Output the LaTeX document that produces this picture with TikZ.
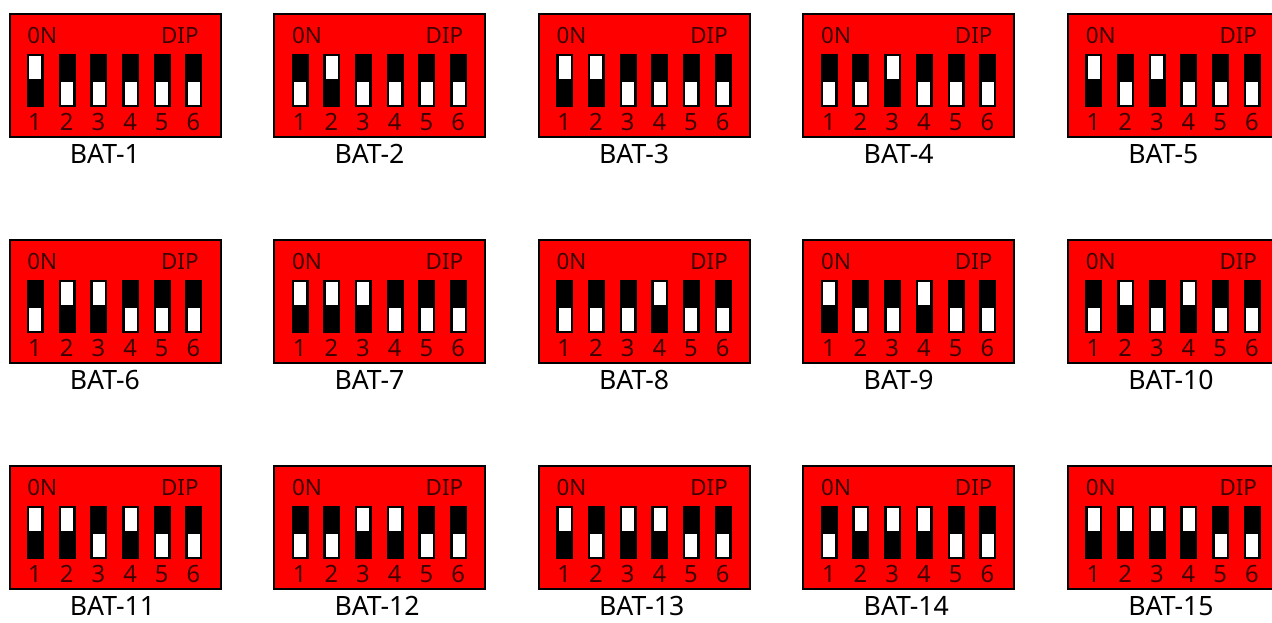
\documentclass[tikz,border=0pt]{standalone}
\usepackage{fontspec}
\setmainfont{Noto Sans}
\usetikzlibrary{positioning}
\definecolor{dipred}{HTML}{FF0000}
\definecolor{dipink}{HTML}{3D0000}
\tikzset{
    dipbox/.style = {rectangle, draw=black, line width=1pt, fill=dipred,
                     minimum width=105.5pt, minimum height=61.5pt,
                     inner sep=0pt, anchor=north west},
    lever/.style = {rectangle, fill=black, minimum width=8.5pt,
                    minimum height=26.5pt, inner sep=0pt, anchor=north west},
    slot/.style = {rectangle, fill=white, minimum width=6pt,
                   minimum height=11.5pt, inner sep=0pt},
    diptext/.style = {text=dipink, inner sep=0pt,
                      font=\fontsize{11.2}{12}\selectfont},
    dipnum/.style = {text=dipink, inner sep=0pt, anchor=base,
                     font=\fontsize{11.9}{12}\selectfont},
    batlabel/.style = {inner sep=0pt, anchor=base west,
                       font=\fontsize{13.3}{14}\selectfont},
}

\begin{document}
\begin{tikzpicture}[x=0.5pt, y=-0.5pt]
    \useasboundingbox (0,0) rectangle (1272,622);
    \clip (0,0) rectangle (1272,622);
    % one switch block per address, bits read from switch 1 upward
    \foreach \n in {1,...,15} {
        \pgfmathtruncatemacro\row{(\n-1)/5}
        \pgfmathtruncatemacro\col{mod(\n-1,5)}
        \begin{scope}[shift={({7.5+264.6*\col},{12+226*\row})}]
            \node[dipbox] (dip\n) at (1,1) {};
            \node[diptext, anchor=base west] (on\n) at (19.5,31) {0N};
            \node[diptext, anchor=base east] (name\n) at (191.5,31) {DIP};
            \foreach \k in {1,...,6} {
                \pgfmathsetmacro\sx{19+31.7*(\k-1)}
                \pgfmathtruncatemacro\bit{mod(floor(\n/pow(2,\k-1)),2)}
                \node[lever] (sw\n-\k) at (\sx,42) {};
                \ifnum\bit=1
                    \node[slot, anchor=north] (slot\n-\k) at ([yshift=-1pt]sw\n-\k.north) {};
                \else
                    \node[slot, anchor=south] (slot\n-\k) at ([yshift=1pt]sw\n-\k.south) {};
                \fi
                \node[dipnum] (num\n-\k) at ({\sx+8.5},118) {\k};
            }
            % address label
            \node[batlabel] (bat\n) at (62,151) {BAT-\n};
        \end{scope}
    }
\end{tikzpicture}
\end{document}
